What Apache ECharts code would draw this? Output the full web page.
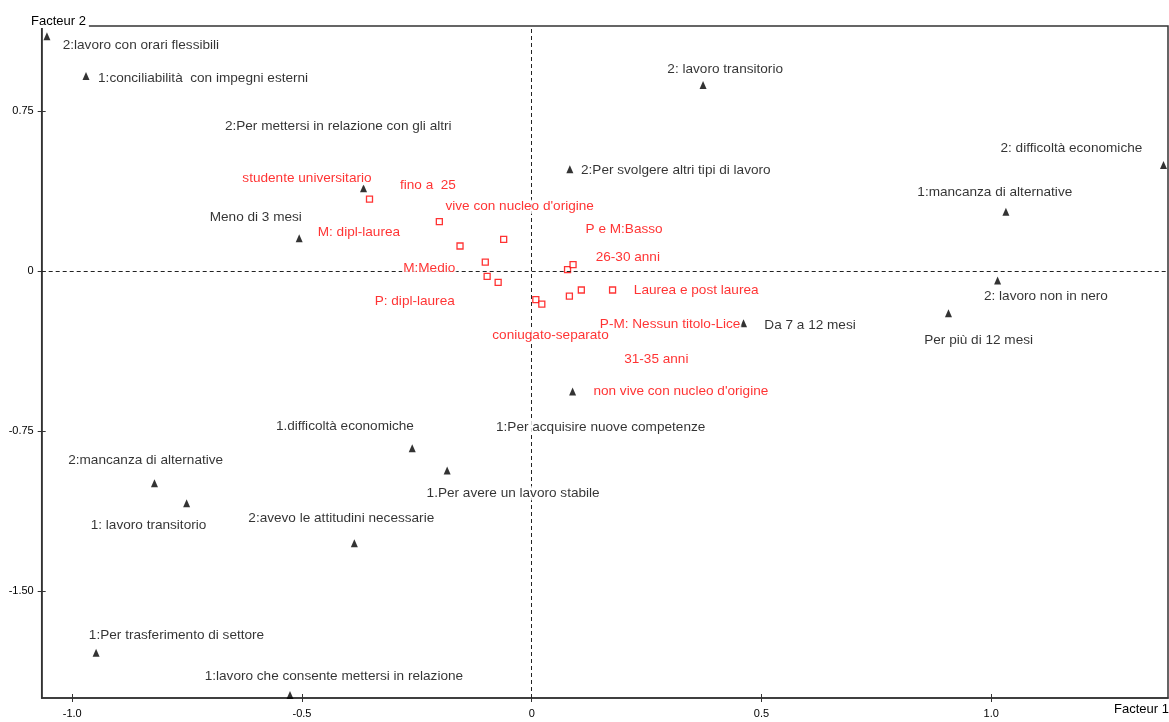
<!DOCTYPE html>
<html>
<head>
<meta charset="utf-8">
<script src="https://cdn.jsdelivr.net/npm/echarts@6/dist/echarts.min.js"></script>
<style>
html,body{margin:0;padding:0;background:#fff;}
#chart{width:1169px;height:722px;}
</style>
</head>
<body>
<div id="chart"></div>
<script>
// ---- Data (factor coordinates) ----
const blackNames = [
  '2:lavoro con orari flessibili',
  '1:conciliabilità  con impegni esterni',
  '2: lavoro transitorio',
  '2: difficoltà economiche',
  '2:Per svolgere altri tipi di lavoro',
  '2:Per mettersi in relazione con gli altri',
  '1:mancanza di alternative',
  'Meno di 3 mesi',
  '2: lavoro non in nero',
  'Per più di 12 mesi',
  'Da 7 a 12 mesi',
  '1:Per acquisire nuove competenze',
  '1.difficoltà economiche',
  '1.Per avere un lavoro stabile',
  '2:mancanza di alternative',
  '1: lavoro transitorio',
  '2:avevo le attitudini necessarie',
  '1:Per trasferimento di settore',
  '1:lavoro che consente mettersi in relazione'
];
const blackX = [-1.055, -0.970, 0.373, 1.375, 0.083, -0.366, 1.032, -0.506, 1.014, 0.907, 0.461, 0.089, -0.260, -0.184, -0.821, -0.751, -0.386, -0.948, -0.526];
const blackY = [1.100, 0.913, 0.871, 0.497, 0.476, 0.387, 0.278, 0.153, -0.045, -0.198, -0.245, -0.565, -0.830, -0.935, -0.994, -1.088, -1.275, -1.788, -1.986];
// label anchors (left edge, vertical middle) in factor units
const blackLabelX = [-1.024, -0.947, 0.292, 1.017, 0.104, -0.671, 0.836, -0.704, 0.981, 0.851, 0.503, -0.081, -0.560, -0.232, -1.012, -0.963, -0.620, -0.967, -0.715];
const blackLabelY = [1.059, 0.902, 0.946, 0.575, 0.473, 0.679, 0.367, 0.252, -0.120, -0.323, -0.253, -0.734, -0.729, -1.041, -0.885, -1.190, -1.158, -1.705, -1.900];

const redX = [-0.353, -0.201, -0.156, -0.061, -0.101, -0.097, -0.073, 0.078, 0.090, 0.176, 0.108, 0.082, 0.009, 0.022];
const redY = [0.337, 0.231, 0.117, 0.148, 0.042, -0.025, -0.053, 0.006, 0.030, -0.089, -0.089, -0.118, -0.134, -0.155];
const redNames = ['studente universitario', 'fino a  25', "vive con nucleo d'origine", 'M: dipl-laurea', 'M:Medio', 'P: dipl-laurea', 'P e M:Basso', '26-30 anni', 'Laurea e post laurea', 'P-M: Nessun titolo-Lice', 'coniugato-separato', '31-35 anni', "non vive con nucleo d'origine"];
const redLabelX = [-0.633, -0.290, -0.191, -0.469, -0.283, -0.345, 0.114, 0.136, 0.219, 0.145, -0.089, 0.198, 0.131];
const redLabelY = [0.434, 0.403, 0.301, 0.181, 0.015, -0.141, 0.195, 0.064, -0.092, -0.248, -0.300, -0.414, -0.565];

const xTicks = [-1.0, -0.5, 0, 0.5, 1.0];
const yTicks = [0.75, 0, -0.75, -1.50];
const xTickLabels = ['-1.0', '-0.5', '0', '0.5', '1.0'];
const yTickLabels = ['0.75', '0', '-0.75', '-1.50'];
const xName = 'Facteur 1';
const yName = 'Facteur 2';

// ---- Font choice: narrow face if present, else Liberation Sans scaled to match widths ----
function hasFont(name) {
  const c = document.createElement('canvas').getContext('2d');
  const s = 'mmmmmwwwwlliiI 0123456789';
  c.font = '40px monospace'; const a = c.measureText(s).width;
  c.font = "40px '" + name + "', monospace"; const b = c.measureText(s).width;
  return Math.abs(a - b) > 0.5;
}
const NARROW = hasFont('Liberation Sans Narrow');
const FONT = NARROW ? "'Liberation Sans Narrow', sans-serif" : "'Liberation Sans', Arial, sans-serif";
const LABEL_SIZE = NARROW ? 16 : 13.6;
const TICK_SIZE = NARROW ? 13 : 11;
const NAME_SIZE = NARROW ? 15 : 13;

const BLACK = '#000';
const RED = '#ff0000';
const X_MIN = -1.0664, X_MAX = 1.3848, Y_MIN = -2.0, Y_MAX = 1.1475;

const zip = (a, b, n) => a.map((v, i) => n ? { value: [v, b[i]], name: n[i] } : [v, b[i]]);

function xAxisCfg(inside, showLine) {
  return {
    type: 'value', min: X_MIN, max: X_MAX, position: 'bottom',
    axisLine: { show: showLine, onZero: false, lineStyle: { color: '#333', width: 1.5 } },
    axisTick: { show: true, inside: inside, length: 4, customValues: xTicks, lineStyle: { color: '#333', width: 1 } },
    axisLabel: { show: !inside, customValues: xTicks, margin: 10, fontFamily: FONT, fontSize: TICK_SIZE, color: BLACK,
      formatter: v => xTickLabels[xTicks.findIndex(t => Math.abs(t - v) < 1e-9)] },
    splitLine: { show: false }
  };
}
function yAxisCfg(inside, showLine) {
  return {
    type: 'value', min: Y_MIN, max: Y_MAX, position: 'left',
    axisLine: { show: showLine, onZero: false, lineStyle: { color: '#333', width: 1.5 } },
    axisTick: { show: true, inside: inside, length: 4, customValues: yTicks, lineStyle: { color: '#333', width: 1 } },
    axisLabel: { show: !inside, customValues: yTicks, margin: 8, fontFamily: FONT, fontSize: TICK_SIZE, color: BLACK,
      formatter: v => yTickLabels[yTicks.findIndex(t => Math.abs(t - v) < 1e-9)] },
    splitLine: { show: false }
  };
}

const labelSeries = (xs, ys, names, color) => ({
  type: 'scatter', symbolSize: 1, z: 5, silent: true,
  itemStyle: { color: 'rgba(0,0,0,0)' },
  data: zip(xs, ys, names),
  label: {
    show: true, position: 'right', distance: 0, formatter: p => p.name,
    fontFamily: FONT, fontSize: LABEL_SIZE, color: color, backgroundColor: '#fff', padding: [0, 1]
  }
});

const chart = echarts.init(document.getElementById('chart'), null, { renderer: 'canvas' });
chart.setOption({
  animation: false,
  backgroundColor: '#fff',
  grid: { left: 41.7, right: 1, top: 26, bottom: 24, show: true, borderColor: '#333', borderWidth: 1.5, backgroundColor: 'transparent' },
  xAxis: [xAxisCfg(false, true), xAxisCfg(true, false)],
  yAxis: [yAxisCfg(false, true), yAxisCfg(true, false)],
  series: [
    {
      type: 'scatter', symbol: 'rect', symbolSize: 6, z: 3,
      itemStyle: { color: '#fff', borderColor: RED, borderWidth: 1.3 },
      data: zip(redX, redY),
      markLine: {
        silent: true, symbol: 'none', label: { show: false },
        lineStyle: { color: '#222', type: [4, 3], width: 1 },
        data: [{ xAxis: 0 }, { yAxis: 0 }]
      }
    },
    {
      type: 'scatter', symbol: 'triangle', symbolSize: [7, 8], z: 4,
      itemStyle: { color: '#000' },
      data: zip(blackX, blackY)
    },
    labelSeries(blackLabelX, blackLabelY, blackNames, BLACK),
    labelSeries(redLabelX, redLabelY, redNames, RED)
  ],
  graphic: [
    { type: 'text', left: 31, top: 15, z: 100,
      style: { text: yName, font: NAME_SIZE + "px " + FONT, fill: BLACK, backgroundColor: '#fff', padding: [0, 3, 0, 0] } },
    { type: 'text', right: 0, top: 703, z: 100,
      style: { text: xName, font: NAME_SIZE + "px " + FONT, fill: BLACK, backgroundColor: '#fff', padding: [0, 0, 0, 3] } }
  ]
});
</script>
</body>
</html>
